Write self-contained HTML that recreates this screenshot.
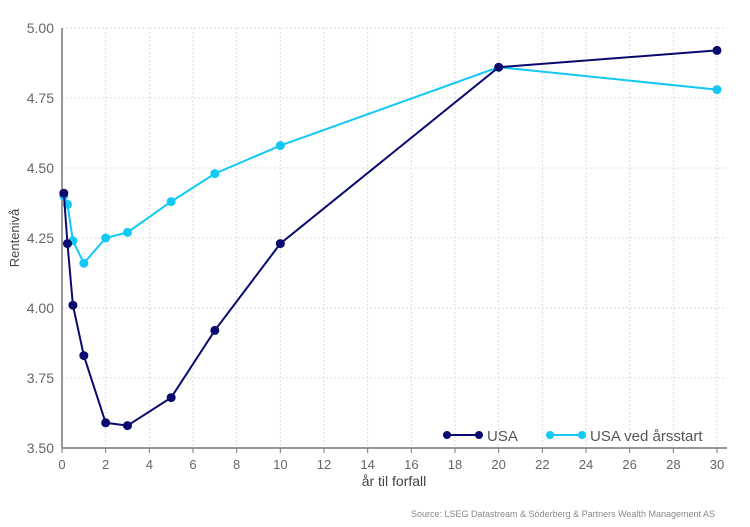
<!DOCTYPE html>
<html><head><meta charset="utf-8"><style>
body{margin:0;background:#fff;font-family:"Liberation Sans",sans-serif}
svg text{font-family:"Liberation Sans",sans-serif}
</style></head><body>
<svg id="c" width="750" height="522" viewBox="0 0 750 522"></svg>
<script>
const maturities=[0.083,0.25,0.5,1,2,3,5,7,10,20,30];
const usaNow=[4.41,4.23,4.01,3.83,3.59,3.58,3.68,3.92,4.23,4.86,4.92];
const usaStart=[4.40,4.37,4.24,4.16,4.25,4.27,4.38,4.48,4.58,4.86,4.78];
const xTicks=[0,2,4,6,8,10,12,14,16,18,20,22,24,26,28,30];
const yTicks=[3.5,3.75,4.0,4.25,4.5,4.75,5.0];
const ns="http://www.w3.org/2000/svg",svg=document.getElementById('c');
const X=v=>62+v*(655/30), Y=v=>448-(v-3.5)*280;
function mk(t,a,p){const e=document.createElementNS(ns,t);for(const k in a)e.setAttribute(k,a[k]);(p||svg).appendChild(e);return e;}
xTicks.forEach(t=>{
 if(t>0){const g=mk('line',{x1:X(t),x2:X(t),y1:28,y2:448,stroke:'#ddd','stroke-dasharray':'2,2'});
 
 }
 const k=mk('line',{x1:X(t),x2:X(t),y1:448,y2:453,stroke:'#777'});
 
 
 const l=mk('text',{x:X(t),y:469,'text-anchor':'middle','font-size':13,fill:'#666'});l.textContent=t;
 
 
});
yTicks.forEach(t=>{
 if(t>3.5){const g=mk('line',{x1:62,x2:727,y1:Y(t),y2:Y(t),stroke:'#ddd','stroke-dasharray':'2,2'});
 
 }
 const l=mk('text',{x:54,y:Y(t)+5,'text-anchor':'end','font-size':14,fill:'#666'});l.textContent=t.toFixed(2);
 
 
});
const ax=mk('line',{x1:62,x2:62,y1:28,y2:448,stroke:'#777','stroke-width':1.5});


const bx=mk('line',{x1:62,x2:727,y1:448,y2:448,stroke:'#777','stroke-width':1.5});


function series(vals,col,name){
 const p=mk('polyline',{points:maturities.map((m,i)=>X(m)+','+Y(vals[i])).join(' '),fill:'none',stroke:col,'stroke-width':2});
 
 
 maturities.forEach((m,i)=>{const c=mk('circle',{cx:X(m),cy:Y(vals[i]),r:4.5,fill:col});
 
 });
}
series(usaStart,'#12c8f5','usa-start');
series(usaNow,'#0a0a6e','usa');
function legend(x,col,txt,name){
 const g=mk('g',{});
 
 
 mk('line',{x1:x,x2:x+32,y1:435,y2:435,stroke:col,'stroke-width':2},g);
 mk('circle',{cx:x,cy:435,r:4,fill:col},g);mk('circle',{cx:x+32,cy:435,r:4,fill:col},g);
 const t=mk('text',{x:x+40,y:441,'font-size':15,fill:'#555'},g);t.textContent=txt;
}
legend(447,'#0a0a6e','USA','legend-usa');
legend(550,'#12c8f5','USA ved årsstart','legend-usa-start');
const xt=mk('text',{x:394,y:486,'text-anchor':'middle','font-size':14,fill:'#444'});xt.textContent='år til forfall';


const yt=mk('text',{x:0,y:0,'text-anchor':'middle','font-size':13,fill:'#444',transform:'translate(19,238) rotate(-90)'});yt.textContent='Rentenivå';


const s=mk('text',{x:715,y:517,'text-anchor':'end','font-size':9,fill:'#888'});s.textContent='Source: LSEG Datastream & Söderberg & Partners Wealth Management AS';


</script>
</body></html>
